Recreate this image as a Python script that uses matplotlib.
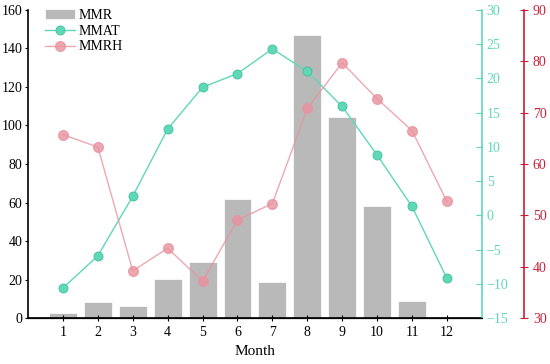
import numpy as np
import matplotlib.pyplot as plt

plt.rcParams['font.family'] = ['Liberation Serif', 'DejaVu Serif']

months = np.arange(1, 13)
mmr = [2.5, 8.5, 6.5, 20.5, 29, 62, 19, 147, 104.5, 58, 9, 0]
mmat = [-10.6, -5.9, 2.8, 12.6, 18.7, 20.7, 24.3, 21.0, 15.9, 8.8, 1.3, -9.2]
mmrh = [65.7, 63.3, 39.2, 43.6, 37.2, 49.1, 52.3, 70.8, 79.7, 72.7, 66.5, 52.7]

teal = '#5fd8b8'
red_ax = '#c8203a'
pink = '#e8939f'

fig = plt.figure(figsize=(5.5, 3.64), dpi=100)
ax = fig.add_axes([0.051, 0.126, 0.825, 0.847])
b = ax.bar(months, mmr, width=0.8, color='#b9b9b9', edgecolor='white', linewidth=0.5, label='MMR')
ax.set_xlim(0, 13)
ax.set_ylim(0, 160)
ax.set_xticks(months)
ax.set_yticks(range(0, 161, 20))
ax.set_xlabel('Month', fontsize=11)
ax.spines['top'].set_visible(False)
ax.spines['right'].set_visible(False)
ax.tick_params(axis='x', direction='inout', length=5, labelsize=10)
ax.tick_params(axis='y', direction='out', length=2.5, pad=1.5, labelsize=10)
for s in ['left', 'bottom']:
    ax.spines[s].set_linewidth(1.2)

# temperature axis
ax2 = ax.twinx()
l1, = ax2.plot(months, mmat, color=teal, linewidth=1.0, marker='o', markersize=6.5,
               markerfacecolor=teal, markeredgecolor='#3fc09e', markeredgewidth=0.6, label='MMAT')
ax2.set_ylim(-15, 30)
ax2.set_yticks(range(-15, 31, 5))
ax2.set_yticklabels([str(v).replace('-', '\u2212') for v in range(-15, 31, 5)])
ax2.spines['right'].set_color(teal)
ax2.spines['right'].set_linewidth(1.2)
ax2.spines['top'].set_visible(False)
ax2.spines['left'].set_visible(False)
ax2.tick_params(axis='y', colors=teal, direction='in', length=4, labelsize=10)

# humidity axis
ax3 = ax.twinx()
ax3.spines['right'].set_position(('axes', 1.0925))
l2, = ax3.plot(months, mmrh, color=pink, linewidth=1.0, alpha=0.8, marker='o', markersize=7,
               markerfacecolor=pink, markeredgecolor=pink, label='MMRH')
ax3.set_ylim(30, 90)
ax3.set_yticks(range(30, 91, 10))
ax3.spines['right'].set_color(red_ax)
ax3.spines['right'].set_linewidth(1.2)
ax3.spines['top'].set_visible(False)
ax3.spines['left'].set_visible(False)
ax3.tick_params(axis='y', colors=red_ax, direction='inout', length=6, labelsize=10)

ax.legend([b, l1, l2], ['MMR', 'MMAT', 'MMRH'], loc='upper left', bbox_to_anchor=(0.02, 1.03),
          frameon=False, fontsize=10, handlelength=2.1, handletextpad=0.3,
          labelspacing=0.2, borderaxespad=0.2)

fig.savefig('out.png', dpi=100)
